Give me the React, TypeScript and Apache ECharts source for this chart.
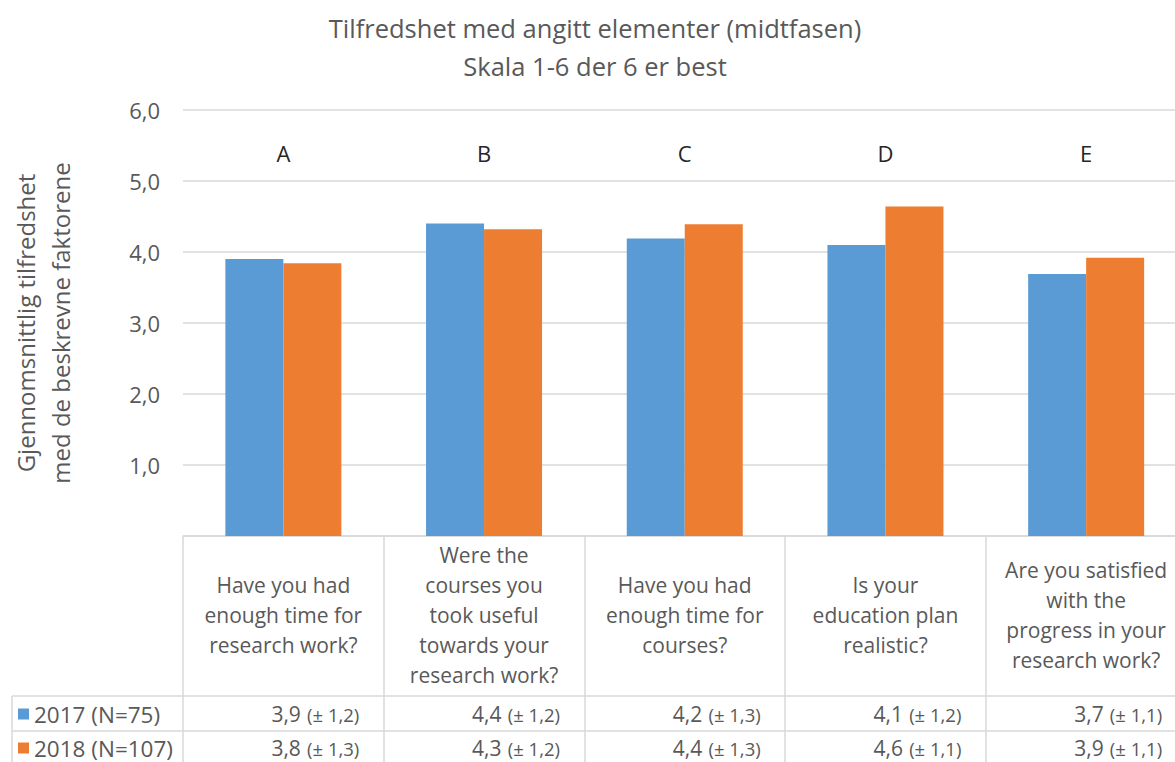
import React, { useEffect, useRef } from "react";
import * as echarts from "echarts";

const titleLines = ["Tilfredshet med angitt elementer (midtfasen)", "Skala 1-6 der 6 er best"];
const yAxisName = "Gjennomsnittlig tilfredshet\nmed de beskrevne faktorene";
const letters = ["A", "B", "C", "D", "E"];
const categories = [
  "Have you had\nenough time for\nresearch work?",
  "Were the\ncourses you\ntook useful\ntowards your\nresearch work?",
  "Have you had\nenough time for\ncourses?",
  "Is your\neducation plan\nrealistic?",
  "Are you satisfied\nwith the\nprogress in your\nresearch work?",
];
const seriesNames = ["2017 (N=75)", "2018 (N=107)"];
const values2017 = [3.9, 4.4, 4.19, 4.1, 3.69];
const values2018 = [3.84, 4.32, 4.39, 4.64, 3.92];
const sd2017 = [1.2, 1.2, 1.3, 1.2, 1.1];
const sd2018 = [1.3, 1.2, 1.3, 1.1, 1.1];

const W = 1175;
const H = 762;
const FONT = "Open Sans";
const GRAY = "#595959";
const LINE = "#d9d9d9";
const GRID_LEFT = 183;
const GRID_TOP = 110;
const AXIS_Y = 536;
const CAT_W = 200.7;
const ROW1_LINE = 696;
const ROW2_LINE = 731;
const TABLE_LEFT = 12;

const fmt = (v: number) => v.toFixed(1).replace(".", ",");
const cellText = (vals: number[], sds: number[]) =>
  vals.map((v, i) => `{v|${fmt(v)}}  {s|(± ${fmt(sds[i])})}`);

export default function App() {
  const ref = useRef<HTMLDivElement>(null);
  useEffect(() => {
    if (!ref.current) return;
    const chart = echarts.init(ref.current, undefined, { renderer: "svg" });
    const gridRight = W - GRID_LEFT - CAT_W * categories.length;
    const valueLabel = (margin: number) => ({
      interval: 0,
      margin,
      verticalAlign: "middle",
      align: "center",
      padding: [0, 0, 0, 64],
      color: GRAY,
      fontFamily: FONT,
      rich: {
        v: { fontSize: 21, color: GRAY, fontFamily: FONT, lineHeight: 24 },
        s: { fontSize: 18.5, color: GRAY, fontFamily: FONT, lineHeight: 24 },
      },
    });
    chart.setOption({
      animation: false,
      textStyle: { fontFamily: FONT },
      graphic: [
        ...titleLines.map((t, i) => ({
          type: "text",
          x: 595,
          y: 28 + i * 38,
          style: {
            text: t,
            fill: GRAY,
            fontSize: 25.5,
            fontFamily: FONT,
            align: "center",
            verticalAlign: "middle",
            textAlign: "center",
            textVerticalAlign: "middle",
          },
        })),
        ...[ROW1_LINE, ROW2_LINE].map((y) => ({
          type: "line",
          shape: { x1: TABLE_LEFT, y1: y, x2: W, y2: y },
          style: { stroke: LINE, lineWidth: 1.5 },
        })),
        {
          type: "line",
          shape: { x1: TABLE_LEFT, y1: ROW1_LINE, x2: TABLE_LEFT, y2: H },
          style: { stroke: LINE, lineWidth: 1.5 },
        },
      ],
      legend: {
        data: seriesNames,
        orient: "vertical",
        left: 18,
        top: 702,
        height: 90,
        padding: 0,
        icon: "rect",
        itemWidth: 11,
        itemHeight: 11,
        itemGap: 10,
        textStyle: { fontSize: 22.5, color: GRAY, fontFamily: FONT, lineHeight: 24 },
      },
      grid: {
        left: GRID_LEFT,
        top: GRID_TOP,
        bottom: H - AXIS_Y,
        right: gridRight,
        containLabel: false,
        outerBoundsMode: "none",
      },
      xAxis: [
        {
          type: "category",
          position: "bottom",
          data: categories,
          axisLine: { lineStyle: { color: LINE, width: 1.5 } },
          axisTick: { show: true, length: H - AXIS_Y, lineStyle: { color: LINE, width: 1.5 } },
          axisLabel: {
            interval: 0,
            margin: 79,
            verticalAlign: "middle",
            align: "center",
            lineHeight: 30,
            fontSize: 21,
            color: GRAY,
            fontFamily: FONT,
          },
        },
        {
          type: "category",
          position: "top",
          data: letters,
          axisLine: { show: false },
          axisTick: { show: false },
          axisLabel: {
            inside: true,
            interval: 0,
            margin: 43,
            verticalAlign: "middle",
            fontSize: 22,
            color: "#262626",
            fontFamily: FONT,
          },
        },
        {
          type: "category",
          position: "bottom",
          data: cellText(values2017, sd2017),
          axisLine: { show: false },
          axisTick: { show: false },
          axisLabel: valueLabel(714 - AXIS_Y),
        },
        {
          type: "category",
          position: "bottom",
          data: cellText(values2018, sd2018),
          axisLine: { show: false },
          axisTick: { show: false },
          axisLabel: valueLabel(748 - AXIS_Y),
        },
      ],
      yAxis: {
        type: "value",
        min: 0,
        max: 6,
        interval: 1,
        name: yAxisName,
        nameLocation: "middle",
        nameGap: 105,
        nameTextStyle: { fontSize: 24, color: GRAY, fontFamily: FONT, lineHeight: 35 },
        axisLine: { show: false },
        axisTick: { show: false },
        splitLine: { lineStyle: { color: LINE, width: 1.5 } },
        axisLabel: {
          margin: 23,
          fontSize: 22,
          color: GRAY,
          fontFamily: FONT,
          formatter: (v: number) => (v === 0 ? "" : fmt(v)),
        },
      },
      series: [
        {
          name: seriesNames[0],
          type: "bar",
          data: values2017,
          barWidth: 58,
          barGap: "0%",
          itemStyle: { color: "#5B9BD5" },
        },
        {
          name: seriesNames[1],
          type: "bar",
          data: values2018,
          barWidth: 58,
          barGap: "0%",
          itemStyle: { color: "#ED7D31" },
        },
      ],
    });
    return () => chart.dispose();
  }, []);
  return (
    <div
      ref={ref}
      style={{ position: "fixed", left: 0, top: 0, width: W, height: H, background: "#fff" }}
    />
  );
}
